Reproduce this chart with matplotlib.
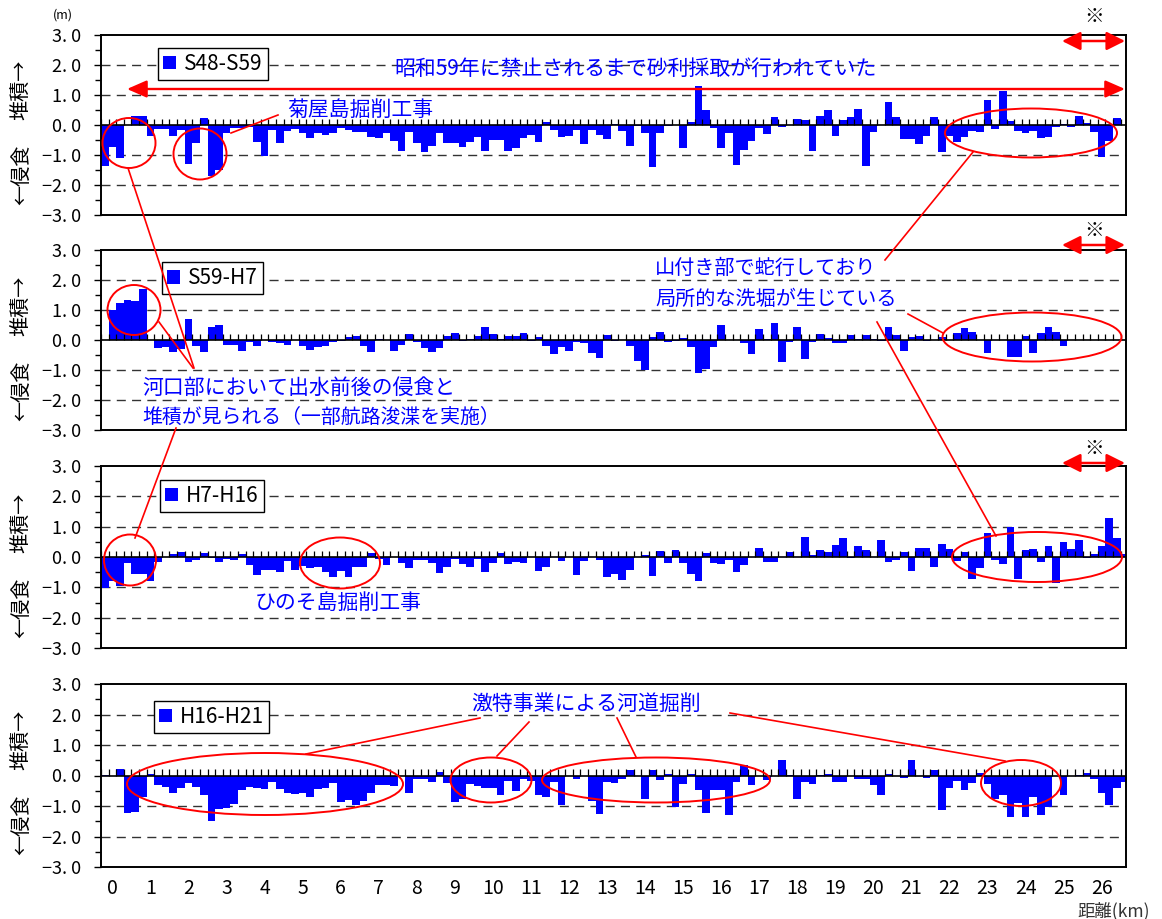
import numpy as np
import matplotlib
matplotlib.use("Agg")
import matplotlib.pyplot as plt
from matplotlib.patches import Ellipse

plt.rcParams['font.family'] = ['Noto Sans CJK JP', 'DejaVu Sans']

# ---------------- data ----------------
distance_km = np.round(np.arange(-0.2, 26.61, 0.2), 1)   # 135 cross sections

periods = ["S48-S59", "S59-H7", "H7-H16", "H16-H21"]

s48_s59 = [
    -1.36, -0.72, -1.11, 0.00, 0.30, 0.30, -0.36, -0.13, -0.13, -0.36,
    -0.17, -1.31, -0.59, 0.24, -1.69, -1.50, -0.28, -0.11, -0.11, -0.06,
    -0.56, -1.02, -0.17, -0.59, -0.19, -0.14, -0.28, -0.44, -0.28, -0.33,
    -0.26, -0.11, -0.17, -0.22, -0.22, -0.39, -0.44, -0.28, -0.52, -0.86,
    -0.22, -0.61, -0.89, -0.70, -0.26, -0.59, -0.59, -0.72, -0.56, -0.41,
    -0.87, -0.50, -0.50, -0.86, -0.76, -0.44, -0.33, -0.56, 0.09, -0.17,
    -0.41, -0.37, -0.17, -0.63, -0.17, -0.33, -0.47, 0.05, -0.19, -0.70,
    -0.03, -0.28, -1.39, -0.28, -0.03, 0.00, -0.76, 0.09, 1.30, 0.50,
    -0.11, -0.78, -0.28, -1.33, -0.83, -0.52, -0.11, -0.31, 0.26, -0.08,
    0.00, 0.20, 0.17, -0.86, 0.31, 0.50, -0.36, 0.17, 0.26, 0.53,
    -1.36, -0.22, 0.00, 0.76, 0.26, -0.48, -0.48, -0.64, -0.36, 0.26,
    -0.89, -0.36, -0.56, -0.39, -0.19, -0.22, 0.83, -0.14, 1.14, 0.13,
    -0.19, -0.26, -0.19, -0.44, -0.39, -0.06, 0.03, -0.06, 0.30, 0.06,
    -0.22, -1.06, -0.52, 0.22, 0.00,
]

s59_h7 = [
    0.00, 0.99, 1.22, 1.32, 1.29, 1.71, 0.00, -0.27, -0.24, -0.41,
    -0.30, 0.69, -0.19, -0.41, 0.45, 0.49, -0.17, -0.16, -0.35, -0.08,
    -0.19, 0.00, -0.08, -0.11, -0.15, 0.00, -0.21, -0.32, -0.24, -0.21,
    -0.08, -0.04, 0.09, 0.14, -0.19, -0.41, 0.02, 0.00, -0.37, -0.15,
    0.20, -0.08, -0.27, -0.41, -0.27, 0.12, 0.23, -0.02, 0.05, 0.12,
    0.45, 0.20, 0.02, 0.14, 0.14, 0.23, -0.04, 0.09, -0.21, -0.48,
    -0.24, -0.35, -0.08, -0.10, -0.44, -0.60, 0.18, -0.04, 0.00, -0.19,
    -0.71, -0.99, 0.09, 0.27, -0.08, -0.04, 0.07, -0.24, -1.10, -0.96,
    -0.24, 0.49, 0.00, 0.00, -0.11, -0.48, 0.38, 0.05, 0.58, -0.73,
    -0.08, 0.45, -0.64, -0.08, 0.20, 0.07, -0.11, -0.11, 0.16, 0.02,
    0.16, 0.05, -0.04, 0.42, 0.16, -0.35, 0.09, 0.14, -0.04, 0.00,
    0.09, 0.00, 0.23, 0.40, 0.27, 0.00, -0.44, 0.00, 0.00, -0.57,
    -0.57, 0.12, -0.44, 0.23, 0.42, 0.27, -0.19, 0.00, 0.00, 0.00,
    0.00, 0.00, 0.00, 0.00, 0.00,
]

h7_h16 = [
    -1.01, -0.80, -0.95, -0.21, -0.55, -0.55, -0.79, -0.16, 0.00, 0.09,
    0.15, -0.15, -0.11, 0.12, -0.04, -0.16, -0.05, -0.10, 0.09, -0.26,
    -0.59, -0.43, -0.43, -0.48, -0.13, -0.43, -0.30, -0.35, -0.32, -0.50,
    -0.66, -0.46, -0.66, -0.33, -0.33, 0.12, -0.05, -0.26, 0.00, -0.19,
    -0.37, -0.11, -0.11, -0.19, -0.54, -0.33, -0.08, -0.22, -0.33, -0.08,
    -0.49, -0.19, 0.13, -0.22, -0.16, -0.19, 0.00, -0.46, -0.33, 0.00,
    -0.13, 0.00, -0.59, -0.13, 0.00, -0.11, -0.66, -0.55, -0.76, -0.43,
    0.00, 0.05, -0.63, 0.20, -0.19, 0.22, -0.19, -0.55, -0.79, 0.12,
    -0.19, -0.22, -0.11, -0.49, -0.26, 0.00, 0.29, -0.15, -0.15, 0.00,
    0.16, 0.00, 0.66, 0.05, 0.22, 0.16, 0.40, 0.62, -0.02, 0.35,
    0.22, 0.00, 0.55, -0.16, -0.11, 0.16, -0.46, 0.31, 0.31, -0.33,
    0.44, 0.25, -0.13, 0.16, -0.71, -0.37, 0.80, -0.11, -0.22, 1.00,
    -0.71, 0.22, 0.27, -0.15, 0.35, -0.87, 0.51, 0.27, 0.55, -0.02,
    0.11, 0.35, 1.27, 0.64, 0.11,
]

h16_h21 = [
    0.03, 0.00, 0.20, -1.24, -1.20, -0.69, 0.06, -0.31, -0.39, -0.56,
    -0.42, -0.26, -0.39, -0.64, -1.50, -1.09, -1.06, -0.94, -0.48, -0.37,
    -0.42, -0.44, -0.22, -0.44, -0.58, -0.61, -0.56, -0.69, -0.44, -0.42,
    -0.26, -0.86, -0.81, -0.98, -0.83, -0.56, -0.30, -0.30, -0.33, 0.00,
    -0.58, -0.11, -0.11, -0.20, 0.13, -0.24, -0.86, -0.76, -0.28, -0.33,
    -0.42, -0.42, -0.64, -0.17, -0.52, -0.13, -0.17, -0.63, -0.69, -0.22,
    -0.96, 0.00, -0.13, 0.00, -0.83, -1.26, -0.22, -0.24, -0.11, 0.19,
    0.00, -0.78, 0.19, -0.14, 0.06, -1.02, -0.28, 0.06, -0.48, -1.22,
    -0.48, -0.48, -1.31, -0.20, 0.33, -0.31, 0.00, -0.14, 0.00, 0.50,
    0.03, -0.76, -0.20, -0.28, 0.03, 0.06, -0.22, -0.20, 0.00, -0.11,
    -0.11, -0.31, -0.64, 0.06, 0.00, -0.09, 0.50, 0.00, -0.09, 0.17,
    -1.14, -0.42, -0.17, -0.48, -0.24, 0.09, -0.28, -0.76, -0.63, -1.36,
    -0.91, -1.36, -0.69, -1.31, -1.03, 0.00, -0.64, 0.00, 0.03, 0.09,
    -0.11, -0.56, -0.98, -0.42, -0.20,
]

series = [s48_s59, s59_h7, h7_h16, h16_h21]

x_ticks = list(range(0, 27))
y_ticks = [-3, -2, -1, 0, 1, 2, 3]
grid_levels = [-2, -1, 1, 2]

# ---------------- layout ----------------
W, H = 1162, 919
fig = plt.figure(figsize=(W / 100, H / 100), dpi=100)
fig.patch.set_facecolor('white')

left_px, right_px = 101, 1126
panels_px = [(35, 215), (250, 430), (466, 648), (684, 867)]
legend_anchor = [(0.0556, 0.928), (0.0595, 0.933), (0.0576, 0.923), (0.0517, 0.907)]


def ylab(v):
    s = f"{abs(v):.1f}".replace('.', '. ')
    return ('\u2212' + s) if v < 0 else s


bounds = np.append(distance_km - 0.1, distance_km[-1] + 0.1)

for k, (top, bot) in enumerate(panels_px):
    ax = fig.add_axes([left_px / W, 1 - bot / H, (right_px - left_px) / W, (bot - top) / H])
    ax.bar(distance_km, series[k], width=0.2, color='#0000FF', linewidth=0,
           label=periods[k], zorder=2)
    ax.set_xlim(-0.3, 26.64)
    ax.set_ylim(-3, 3)
    for g in grid_levels:
        ax.axhline(g, color='#333333', lw=1.0, ls=(0, (6.5, 4.5)), zorder=1)
    ax.axhline(0, color='black', lw=1.2, zorder=3)
    ax.vlines(bounds, 0, 0.2, color='black', lw=0.9, zorder=3)

    ax.set_yticks(y_ticks)
    ax.set_yticklabels([ylab(v) for v in y_ticks])
    ax.set_yticks(np.arange(-3, 3.01, 0.5), minor=True)
    ax.tick_params(axis='y', which='major', direction='out', length=5, width=1,
                   labelsize=13, pad=9)
    ax.tick_params(axis='y', which='minor', direction='out', length=4, width=1)
    ax.set_xticks(x_ticks)
    if k == 3:
        ax.set_xticklabels([str(t) for t in x_ticks])
        ax.tick_params(axis='x', length=0, labelsize=14, pad=8)
    else:
        ax.set_xticklabels([])
        ax.tick_params(axis='x', length=0)
    for sp in ax.spines.values():
        sp.set_linewidth(1.4)
        sp.set_color('black')

    leg = ax.legend(loc='upper left', bbox_to_anchor=legend_anchor[k], borderaxespad=0,
                    fancybox=False, edgecolor='black', framealpha=1, fontsize=15,
                    handlelength=0.6, handleheight=0.6, handletextpad=0.4,
                    borderpad=0.25)
    leg.get_frame().set_linewidth(1.0)
    leg.set_zorder(5)

# ---------------- annotations overlay ----------------
ov = fig.add_axes([0, 0, 1, 1], zorder=10)
ov.set_xlim(0, W)
ov.set_ylim(H, 0)
ov.axis('off')
ov.patch.set_alpha(0)

RED = '#FF0000'
BLUE = '#0000FF'

# vertical axis titles
zero_px = [125, 341, 558, 775]
for z in zero_px:
    ov.text(22, z - 35, '堆積→', rotation=90, ha='center', va='center', fontsize=14.5, color='black')
    ov.text(22, z + 50, '←侵食', rotation=90, ha='center', va='center', fontsize=14.5, color='black')

ov.text(63, 15, '(m)', ha='center', va='center', fontsize=9, color='black')
ov.text(1114, 911, '距離(km)', ha='center', va='center', fontsize=12.5, color='#333333')

# ※ markers and short arrows
for ty, ay in [(16, 41), (230, 245), (449, 463)]:
    ov.text(1094, ty, '※', ha='center', va='center', fontsize=14, color='black')
    ov.annotate('', xy=(1125, ay), xytext=(1062, ay),
                arrowprops=dict(arrowstyle='<|-|>,head_length=0.8,head_width=0.4',
                                color=RED, lw=1.8, shrinkA=0, shrinkB=0, mutation_scale=14))

# big arrow panel 1
ov.annotate('', xy=(1125, 89), xytext=(127, 89),
            arrowprops=dict(arrowstyle='<|-|>,head_length=0.8,head_width=0.35',
                            color=RED, lw=1.7, shrinkA=0, shrinkB=0, mutation_scale=15))

# blue texts
ov.text(636, 69, '昭和59年に禁止されるまで砂利採取が行われていた', ha='center', va='center',
        fontsize=15, color=BLUE)
ov.text(360, 110, '菊屋島掘削工事', ha='center', va='center', fontsize=15, color=BLUE)
ov.text(142, 388, '河口部において出水前後の侵食と', ha='left', va='center', fontsize=15, color=BLUE)
ov.text(142, 417, '堆積が見られる（一部航路浚渫を実施）', ha='left', va='center', fontsize=14.3, color=BLUE)
ov.text(655, 268, '山付き部で蛇行しており', ha='left', va='center', fontsize=14.5, color=BLUE)
ov.text(655, 299, '局所的な洗堀が生じている', ha='left', va='center', fontsize=14.5, color=BLUE)
ov.text(338, 603, 'ひのそ島掘削工事', ha='center', va='center', fontsize=15, color=BLUE)
ov.text(586, 704, '激特事業による河道掘削', ha='center', va='center', fontsize=15, color=BLUE)

# ellipses
ellipses = [
    (129, 143, 53, 50), (200, 154, 53, 51), (1031, 133, 172, 49),
    (134, 310, 53, 50), (1032, 337, 179, 49),
    (130, 560, 52, 51), (340, 563, 80, 51), (1037, 557, 170, 50),
    (265, 784, 276, 62), (491, 780, 81, 45), (656, 780, 228, 45), (1021, 783, 80, 46),
]
for cx, cy, ew, eh in ellipses:
    ov.add_patch(Ellipse((cx, cy), ew, eh, fill=False, edgecolor=RED, lw=1.4))

# leader lines
lines = [
    ((278, 115), (231, 133)),
    ((128, 168), (194, 368)),
    ((159, 322), (193, 368)),
    ((176, 428), (135, 538)),
    ((885, 260), (973, 152)),
    ((908, 314), (943, 333)),
    ((877, 322), (996, 536)),
    ((480, 718), (306, 754)),
    ((529, 722), (497, 756)),
    ((617, 718), (636, 757)),
    ((730, 713), (1005, 761)),
]
for (x1, y1), (x2, y2) in lines:
    ov.plot([x1, x2], [y1, y2], color=RED, lw=1.2)

fig.savefig('out.png', dpi=100)
